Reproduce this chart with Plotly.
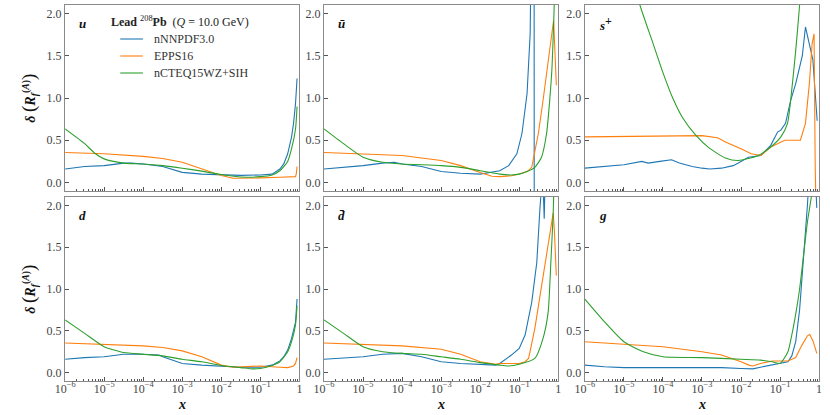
import plotly.graph_objects as go
from plotly.subplots import make_subplots

# ---------------- data (log10 x, delta R) ----------------
# u
u_nnpdf_lx = [-6, -5.5, -5, -4.5, -4.3, -4, -3.5, -3, -2.5, -2, -1.5, -1, -0.7, -0.5, -0.4, -0.3, -0.2, -0.15, -0.1, -0.06]
u_nnpdf_y = [0.16, 0.19, 0.20, 0.23, 0.23, 0.22, 0.19, 0.12, 0.10, 0.095, 0.085, 0.09, 0.10, 0.16, 0.22, 0.34, 0.54, 0.70, 0.93, 1.23]
u_epps_lx = [-6, -5, -4, -3.5, -3, -2.5, -2, -1.7, -1.5, -1, -0.5, -0.2, -0.1, -0.08, -0.06]
u_epps_y = [0.355, 0.34, 0.31, 0.285, 0.24, 0.16, 0.083, 0.05, 0.05, 0.055, 0.063, 0.07, 0.07, 0.10, 0.19]
u_cteq_lx = [-6, -5.5, -5.25, -5, -4.5, -4, -3.5, -3, -2.5, -2, -1.5, -1, -0.7, -0.5, -0.3, -0.2, -0.1, -0.06]
u_cteq_y = [0.635, 0.46, 0.35, 0.28, 0.23, 0.22, 0.20, 0.17, 0.135, 0.095, 0.065, 0.07, 0.09, 0.14, 0.25, 0.40, 0.63, 0.90]

# u-bar
ub_nnpdf_lx = [-6, -5.5, -5, -4.5, -4.2, -4, -3.5, -3, -2.5, -2, -1.5, -1.27, -1.06, -0.93, -0.8, -0.72, -0.69, -0.66, -0.62, -0.615]
ub_nnpdf_y = [0.16, 0.18, 0.20, 0.23, 0.24, 0.22, 0.19, 0.13, 0.11, 0.10, 0.14, 0.20, 0.34, 0.58, 1.05, 1.76, 2.3, 4.0, 4.0, -1.0]
ub_epps_lx = [-6, -5, -4, -3, -2.5, -2, -1.7, -1.5, -1.2, -1, -0.8, -0.68, -0.51, -0.39, -0.26, -0.18, -0.12, -0.09, -0.05]
ub_epps_y = [0.355, 0.34, 0.32, 0.26, 0.20, 0.12, 0.075, 0.07, 0.08, 0.10, 0.13, 0.18, 0.58, 0.97, 1.44, 1.76, 1.92, 1.60, 1.15]
ub_cteq_lx = [-6, -5.5, -5, -4.5, -4, -3, -2.5, -2, -1.5, -1.2, -1, -0.8, -0.6, -0.43, -0.3, -0.22, -0.16, -0.11, -0.08]
ub_cteq_y = [0.635, 0.46, 0.30, 0.24, 0.22, 0.20, 0.18, 0.14, 0.10, 0.09, 0.10, 0.13, 0.18, 0.30, 0.58, 0.97, 1.37, 2.0, 2.5]

# s+
sp_nnpdf_lx = [-6, -5, -4.54, -4.38, -4.08, -3.78, -3.58, -3.25, -3, -2.8, -2.5, -2.2, -2.07, -1.81, -1.49, -1.24, -1.06, -0.98, -0.86, -0.73, -0.6, -0.43, -0.35, -0.23, -0.16, -0.05]
sp_nnpdf_y = [0.17, 0.21, 0.25, 0.23, 0.25, 0.27, 0.23, 0.19, 0.17, 0.16, 0.17, 0.20, 0.23, 0.30, 0.32, 0.44, 0.60, 0.62, 0.70, 0.97, 1.17, 1.50, 1.84, 1.60, 1.45, 0.73]
sp_epps_lx = [-6, -4, -3, -2.6, -2.4, -2, -1.74, -1.49, -1.24, -0.88, -0.63, -0.48, -0.35, -0.25, -0.18, -0.13, -0.1, -0.08]
sp_epps_y = [0.54, 0.55, 0.555, 0.53, 0.48, 0.40, 0.34, 0.32, 0.42, 0.50, 0.50, 0.50, 0.70, 1.17, 1.64, 1.76, 0.18, -0.30]
sp_cteq_lx = [-6, -5.5, -5, -4.59, -4.25, -4.0, -3.75, -3.5, -3.16, -2.82, -2.4, -2.07, -1.56, -1.24, -0.98, -0.81, -0.73, -0.6, -0.5, -0.45]
sp_cteq_y = [4.7, 3.7, 2.8, 2.1, 1.64, 1.30, 1.00, 0.77, 0.56, 0.41, 0.29, 0.26, 0.32, 0.42, 0.54, 0.70, 0.97, 1.56, 2.1, 2.5]

# d
d_nnpdf_lx = [-6, -5.5, -5, -4.5, -4, -3.6, -3.5, -3, -2.5, -2, -1.5, -1, -0.7, -0.5, -0.4, -0.3, -0.2, -0.1, -0.06]
d_nnpdf_y = [0.16, 0.18, 0.19, 0.22, 0.22, 0.21, 0.19, 0.11, 0.09, 0.075, 0.065, 0.065, 0.09, 0.14, 0.19, 0.27, 0.41, 0.60, 0.88]
d_epps_lx = [-6, -5, -4, -3.5, -3, -2.5, -2, -1.7, -1.5, -1, -0.5, -0.3, -0.15, -0.1, -0.06]
d_epps_y = [0.355, 0.34, 0.32, 0.30, 0.26, 0.19, 0.09, 0.065, 0.067, 0.08, 0.065, 0.06, 0.08, 0.11, 0.18]
d_cteq_lx = [-6, -5.5, -5, -4.5, -4, -3.5, -3, -2.5, -2, -1.5, -1.2, -1, -0.7, -0.5, -0.3, -0.2, -0.1, -0.06]
d_cteq_y = [0.63, 0.47, 0.31, 0.24, 0.22, 0.20, 0.16, 0.13, 0.085, 0.06, 0.045, 0.05, 0.085, 0.13, 0.25, 0.37, 0.57, 0.80]

# d-bar
db_nnpdf_lx = [-6, -5, -4.5, -4, -3.5, -3, -2.5, -2, -1.6, -1.5, -1.2, -1, -0.85, -0.68, -0.55, -0.47, -0.44, -0.4, -0.36, -0.33, -0.28]
db_nnpdf_y = [0.16, 0.19, 0.22, 0.23, 0.19, 0.13, 0.11, 0.10, 0.09, 0.11, 0.21, 0.29, 0.45, 0.84, 1.32, 1.96, 2.3, 2.4, 1.84, 2.4, 3.5]
db_epps_lx = [-6, -5, -4, -3, -2.5, -2, -1.6, -1.5, -1, -0.85, -0.76, -0.6, -0.47, -0.34, -0.22, -0.13, -0.1, -0.05]
db_epps_y = [0.355, 0.34, 0.32, 0.28, 0.22, 0.13, 0.10, 0.11, 0.11, 0.13, 0.17, 0.53, 0.92, 1.32, 1.68, 1.91, 1.70, 1.16]
db_cteq_lx = [-6, -5.5, -5, -4.5, -4, -3.5, -3, -2.5, -2, -1.5, -1.3, -1, -0.6, -0.39, -0.26, -0.19, -0.13, -0.1]
db_cteq_y = [0.63, 0.47, 0.31, 0.25, 0.23, 0.22, 0.19, 0.16, 0.12, 0.09, 0.08, 0.10, 0.17, 0.41, 0.72, 1.32, 1.91, 2.4]

# g
g_nnpdf_lx = [-6, -5.5, -5, -4, -3, -2.5, -2, -1.7, -1.5, -1.2, -1, -0.8, -0.7, -0.6, -0.5, -0.4, -0.3, -0.25, -0.1, -0.06]
g_nnpdf_y = [0.09, 0.07, 0.06, 0.06, 0.067, 0.06, 0.05, 0.045, 0.065, 0.09, 0.11, 0.13, 0.20, 0.37, 0.75, 1.35, 2.0, 2.4, 2.4, 1.97]
g_epps_lx = [-6, -5, -4, -3, -2.5, -2, -1.8, -1.7, -1.5, -1.2, -1, -0.8, -0.6, -0.45, -0.3, -0.24, -0.15, -0.06]
g_epps_y = [0.37, 0.34, 0.31, 0.25, 0.21, 0.13, 0.09, 0.08, 0.11, 0.14, 0.14, 0.14, 0.18, 0.32, 0.44, 0.455, 0.37, 0.23]
g_cteq_lx = [-6, -5.5, -5, -4.5, -4, -3, -2, -1.5, -1.2, -1, -0.8, -0.7, -0.6, -0.5, -0.4, -0.3, -0.2, -0.15]
g_cteq_y = [0.88, 0.61, 0.37, 0.25, 0.19, 0.18, 0.16, 0.15, 0.13, 0.11, 0.25, 0.45, 0.70, 1.00, 1.40, 1.80, 2.10, 2.30]

SERIES = ["nNNPDF3.0", "EPPS16", "nCTEQ15WZ+SIH"]
COLORS = ["#1f77b4", "#ff7f0e", "#2ca02c"]
PANEL_LABELS = ["<b><i>u</i></b>", "<b><i>ū</i></b>",
                "<b><i>s</i></b><sup><span style='font-size:12px'><b>+</b></span></sup>",
                "<b><i>d</i></b>", "<b><i>d̄</i></b>", "<b><i>g</i></b>"]
X_TICKVALS = [1e-6, 1e-5, 1e-4, 1e-3, 1e-2, 1e-1, 1]
X_TICKTEXT = ["10<sup>−6</sup>", "10<sup>−5</sup>", "10<sup>−4</sup>", "10<sup>−3</sup>",
              "10<sup>−2</sup>", "10<sup>−1</sup>", "1"]
Y_TICKVALS = [0, 0.5, 1.0, 1.5, 2.0]
Y_TICKTEXT = ["0.0", "0.5", "1.0", "1.5", "2.0"]
LEGEND_TITLE = "<b>Lead</b> <sup>208</sup><b>Pb</b>  (<i>Q</i> = 10.0 GeV)"

panels = [
    [(u_nnpdf_lx, u_nnpdf_y), (u_epps_lx, u_epps_y), (u_cteq_lx, u_cteq_y)],
    [(ub_nnpdf_lx, ub_nnpdf_y), (ub_epps_lx, ub_epps_y), (ub_cteq_lx, ub_cteq_y)],
    [(sp_nnpdf_lx, sp_nnpdf_y), (sp_epps_lx, sp_epps_y), (sp_cteq_lx, sp_cteq_y)],
    [(d_nnpdf_lx, d_nnpdf_y), (d_epps_lx, d_epps_y), (d_cteq_lx, d_cteq_y)],
    [(db_nnpdf_lx, db_nnpdf_y), (db_epps_lx, db_epps_y), (db_cteq_lx, db_cteq_y)],
    [(g_nnpdf_lx, g_nnpdf_y), (g_epps_lx, g_epps_y), (g_cteq_lx, g_cteq_y)],
]

FONT = "Liberation Serif"
W, H = 830, 415
col_px = [(56, 294), (319, 557), (584, 822)]
row_px = [(5, 191), (197, 381)]

fig = make_subplots(rows=2, cols=3)

minor_vals = [m * 10 ** e for e in range(-6, 0) for m in range(2, 10)]

for i, series in enumerate(panels):
    r, c = divmod(i, 3)
    for k, (lx, yv) in enumerate(series):
        shape = dict(shape="spline", smoothing=0.6) if k == 2 else dict(shape="linear")
        fig.add_trace(go.Scatter(
            x=[10 ** v for v in lx], y=yv, mode="lines", name=SERIES[k],
            line=dict(color=COLORS[k], width=1.1, **shape),
            showlegend=False, legendgroup=SERIES[k]),
            row=r + 1, col=c + 1)
    idx = "" if i == 0 else str(i + 1)
    x0, x1 = col_px[c]
    y0, y1 = row_px[r]
    fig.layout["xaxis" + idx].update(
        type="log", range=[-6, 0], domain=[x0 / W, x1 / W],
        tickvals=X_TICKVALS, ticktext=X_TICKTEXT if r == 1 else [""] * 7,
        ticks="inside", ticklen=4, tickcolor="#555", tickwidth=0.8,
        ticklabelstandoff=-4,
        minor=dict(tickvals=minor_vals, ticks="inside", ticklen=2, tickcolor="#555", tickwidth=0.6),
        showline=True, mirror=True, linecolor="#8a8a8a", linewidth=1.2,
        showgrid=False, zeroline=False,
        tickfont=dict(family=FONT, size=12, color="#444"))
    fig.layout["yaxis" + idx].update(
        range=[-0.1, 2.1], domain=[1 - y1 / H, 1 - y0 / H],
        tickvals=Y_TICKVALS, ticktext=Y_TICKTEXT,
        ticks="inside", ticklen=4, tickcolor="#555", tickwidth=0.8,
        showline=True, mirror=True, linecolor="#8a8a8a", linewidth=1.2,
        showgrid=False, zeroline=False,
        tickfont=dict(family=FONT, size=12, color="#444"))
    fig.add_annotation(text=PANEL_LABELS[i], xref="paper", yref="paper",
                       x=(x0 + 12) / W, y=1 - (y0 + 18) / H, xanchor="left", yanchor="middle",
                       showarrow=False, font=dict(family=FONT, size=13, color="#111"))

ylab = ("<b><i>δ</i></b> <span style='font-size:19px'>(</span><b><i>R</i></b>"
        "<sub><b><i>f</i></b></sub><sup><b>(<i>A</i>)</b></sup><span style='font-size:19px'>)</span>")
for (y0, y1) in row_px:
    fig.add_annotation(text=ylab, xref="paper", yref="paper", x=19 / W, y=1 - (y0 + y1) / 2 / H,
                       xanchor="center", yanchor="middle",
                       textangle=-90, showarrow=False, font=dict(family=FONT, size=14, color="#111"))
for (x0, x1) in col_px:
    fig.add_annotation(text="<b><i>x</i></b>", xref="paper", yref="paper", x=(x0 + x1) / 2 / W,
                       y=1 - 404 / H, xanchor="center", yanchor="middle",
                       showarrow=False, font=dict(family=FONT, size=14, color="#111"))

# legend drawn inside the first panel
fig.add_annotation(text=LEGEND_TITLE, xref="paper", yref="paper", x=101 / W, y=1 - 21 / H,
                   xanchor="left", yanchor="middle", showarrow=False,
                   font=dict(family=FONT, size=12, color="#222"))
for k, name in enumerate(SERIES):
    yy = 1 - (39 + 17 * k) / H
    fig.add_shape(type="line", xref="paper", yref="paper", x0=112 / W, x1=135 / W, y0=yy, y1=yy,
                  line=dict(color=COLORS[k], width=1.1))
    fig.add_annotation(text=name, xref="paper", yref="paper", x=144 / W, y=yy,
                       xanchor="left", yanchor="middle", showarrow=False,
                       font=dict(family=FONT, size=12, color="#333"))

fig.update_layout(
    width=W, height=H, margin=dict(l=0, r=0, t=0, b=0),
    paper_bgcolor="white", plot_bgcolor="white",
    font=dict(family=FONT, size=12, color="#333"),
    showlegend=False,
)

fig.write_html("out.html", config={"displayModeBar": False},
               post_script="document.body.style.margin='0';document.body.style.padding='0';")
